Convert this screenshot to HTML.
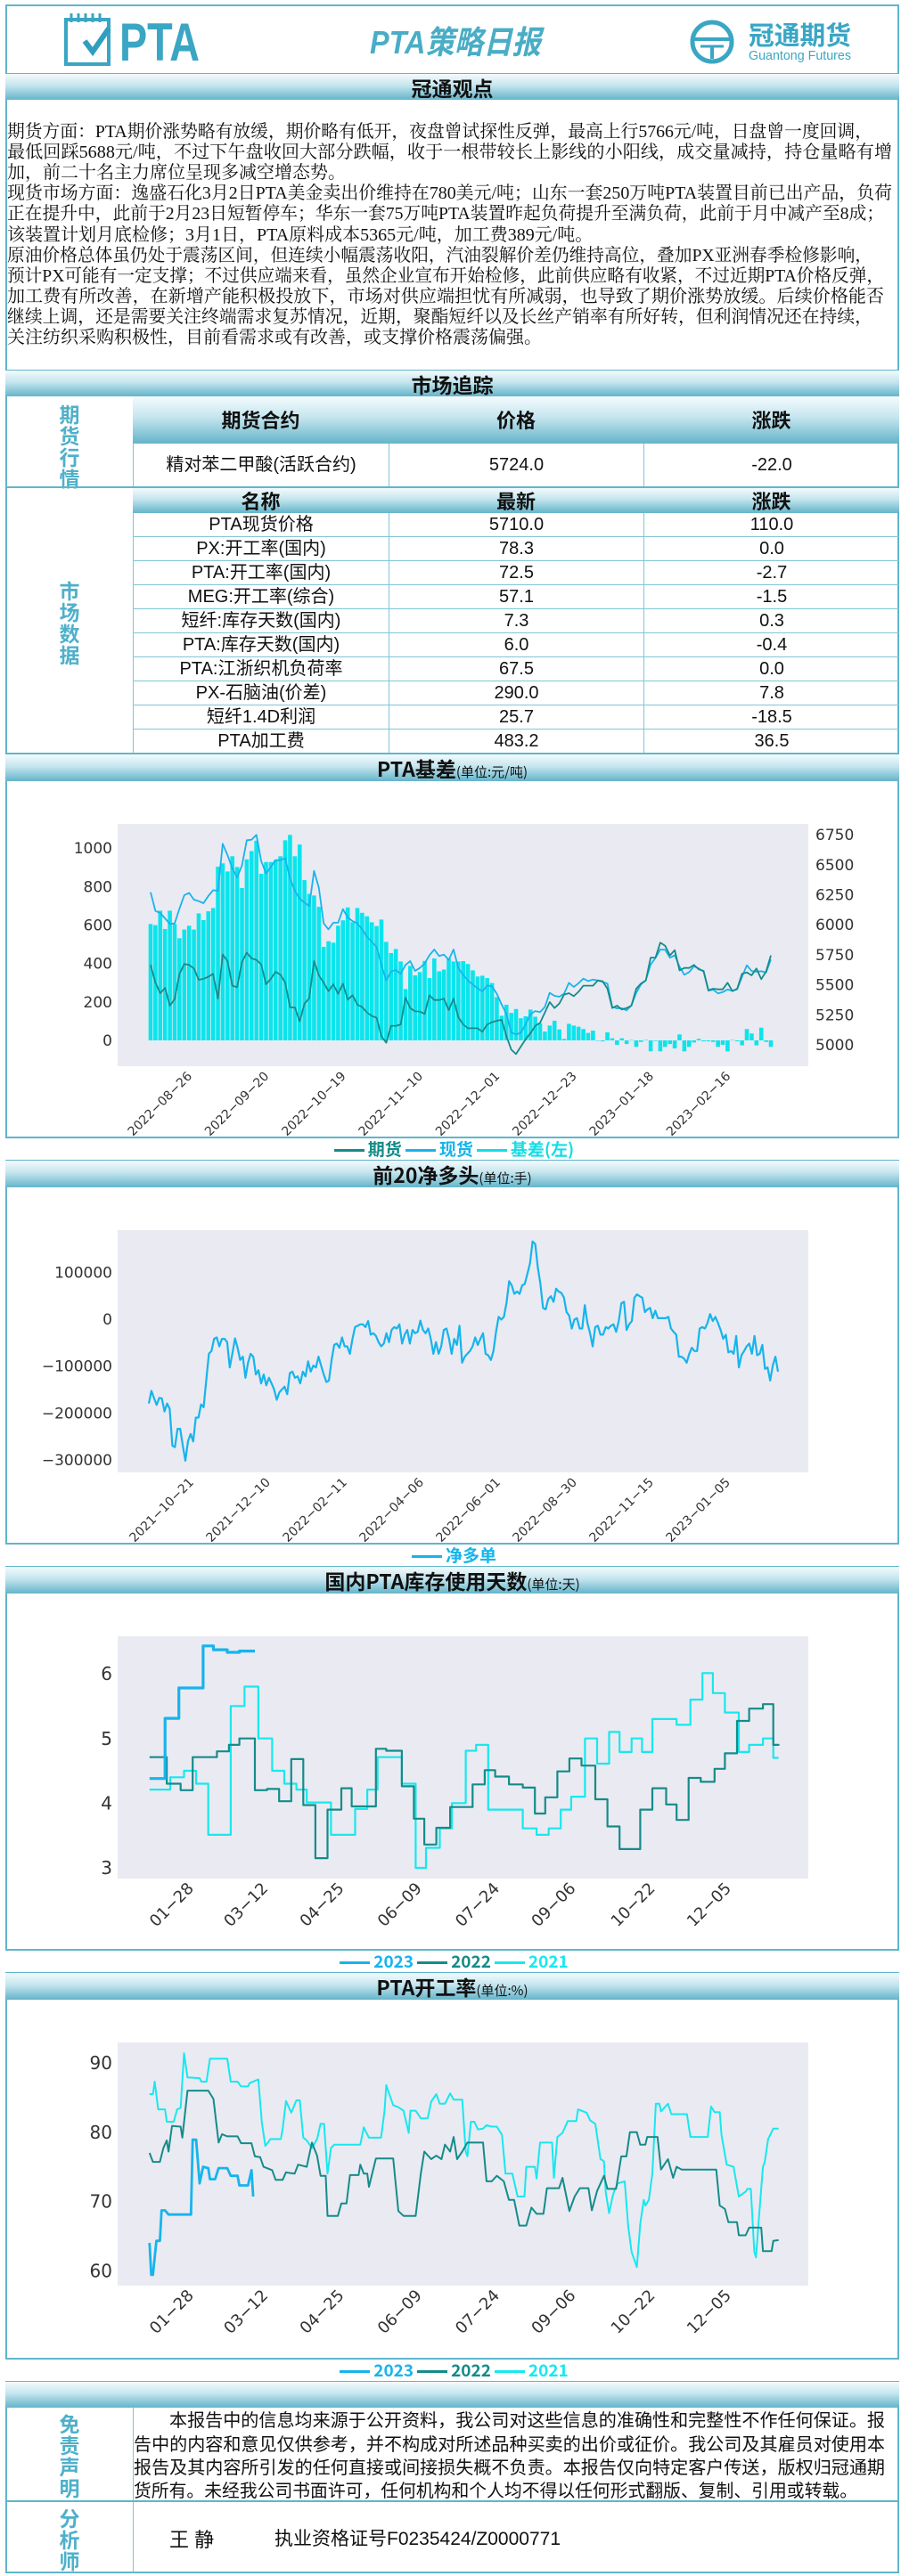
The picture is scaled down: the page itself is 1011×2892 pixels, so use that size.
<!DOCTYPE html>
<html><head><meta charset="utf-8">
<style>
*{margin:0;padding:0;box-sizing:border-box}
body{width:1011px;height:2892px;position:relative;background:#fff;font-family:"Liberation Sans","Noto Sans CJK SC",sans-serif;overflow:hidden;color:#111}
.a{position:absolute}
.sec{position:absolute;left:6px;width:1003px;background:linear-gradient(#f4fbfd,#c4e5ee 45%,#64b4ca);text-align:center;font-weight:bold;font-size:23px;color:#111;border-top:1px solid #5fb6cb;font-family:"Noto Sans CJK SC",sans-serif}
.sec small{font-size:15px;font-weight:normal}
.th{position:absolute;background:linear-gradient(#f4fbfd,#c4e5ee 45%,#64b4ca);text-align:center;font-weight:bold;font-size:22px;font-family:"Noto Sans CJK SC",sans-serif}
.td{position:absolute;text-align:center;font-size:20px;border-bottom:1px solid #7fc6d8;border-left:1px solid #7fc6d8;font-family:"Liberation Sans","Noto Sans CJK SC",sans-serif}
.vl{position:absolute;width:26px;color:#4fb0ca;font-weight:bold;font-size:23px;line-height:24px;text-align:center;font-family:"Noto Sans CJK SC",sans-serif}
.leg{position:absolute;left:6px;width:1003px;text-align:center;font-weight:bold;font-size:19px;font-family:"Noto Sans CJK SC",sans-serif;border-top:2px solid #5fb6cb;background:#fff}
.leg span.l{display:inline-block;width:34px;height:3px;vertical-align:middle;margin:0 4px 0 4px}
.hl{position:absolute;left:6px;width:1003px;height:2px;background:#5fb6cb}
</style></head>
<body>
<div class="a" style="left:6px;top:5px;width:1003px;height:2884px;border:2px solid #5fb6cb"></div>

<svg class="a" style="left:0;top:0" width="1011" height="84">
  <g>
    <rect x="74" y="22" width="48" height="50" fill="none" stroke="#3aa6c4" stroke-width="4"/>
    <g stroke="#3aa6c4" stroke-width="3"><line x1="80" y1="15" x2="80" y2="25"/><line x1="88" y1="15" x2="88" y2="25"/><line x1="96" y1="15" x2="96" y2="25"/><line x1="104" y1="15" x2="104" y2="25"/><line x1="112" y1="15" x2="112" y2="25"/></g>
    <polyline points="95,46 104,58 122,32" fill="none" stroke="#2f9fc0" stroke-width="6"/>
    <text x="134" y="68" font-size="60" font-weight="bold" fill="#3aa6c4" textLength="90" lengthAdjust="spacingAndGlyphs" font-family="Liberation Sans, sans-serif">PTA</text>
  </g>
  <text x="415" y="60" font-size="36" font-weight="bold" font-style="italic" fill="#49adc6" textLength="192" lengthAdjust="spacingAndGlyphs" font-family="Liberation Sans, Noto Sans CJK SC, sans-serif">PTA策略日报</text>
  <g>
    <circle cx="799" cy="47" r="22" fill="none" stroke="#3aa6c4" stroke-width="5"/>
    <line x1="778" y1="44" x2="820" y2="44" stroke="#3aa6c4" stroke-width="4"/>
    <line x1="786" y1="52" x2="812" y2="52" stroke="#3aa6c4" stroke-width="3"/>
    <line x1="799" y1="52" x2="799" y2="66" stroke="#3aa6c4" stroke-width="4"/>
    <text x="840" y="50" font-size="29" font-weight="bold" fill="#3aa6c4" textLength="115" lengthAdjust="spacingAndGlyphs" font-family="Noto Sans CJK SC, sans-serif">冠通期货</text>
    <text x="840" y="67" font-size="15" fill="#3aa6c4" textLength="115" lengthAdjust="spacingAndGlyphs" font-family="Liberation Sans, sans-serif">Guantong Futures</text>
  </g>
</svg>

<div class="sec" style="top:82px;height:30px;line-height:30px">冠通观点</div>

<svg class="a" style="left:0;top:112px" width="1011" height="303" font-family="Liberation Serif, Noto Serif CJK SC, serif" font-size="20" fill="#111">
  <text x="8" y="42" textLength="971" lengthAdjust="spacingAndGlyphs">期货方面：PTA期价涨势略有放缓，期价略有低开，夜盘曾试探性反弹，最高上行5766元/吨，日盘曾一度回调，</text>
  <text x="8" y="65" textLength="993" lengthAdjust="spacingAndGlyphs">最低回踩5688元/吨，不过下午盘收回大部分跌幅，收于一根带较长上影线的小阳线，成交量减持，持仓量略有增</text>
  <text x="8" y="88">加，前二十名主力席位呈现多减空增态势。</text>
  <text x="8" y="111" textLength="993" lengthAdjust="spacingAndGlyphs">现货市场方面：逸盛石化3月2日PTA美金卖出价维持在780美元/吨；山东一套250万吨PTA装置目前已出产品，负荷</text>
  <text x="8" y="134" textLength="984" lengthAdjust="spacingAndGlyphs">正在提升中，此前于2月23日短暂停车；华东一套75万吨PTA装置昨起负荷提升至满负荷，此前于月中减产至8成；</text>
  <text x="8" y="158">该装置计划月底检修；3月1日，PTA原料成本5365元/吨，加工费389元/吨。</text>
  <text x="8" y="181" textLength="971" lengthAdjust="spacingAndGlyphs">原油价格总体虽仍处于震荡区间，但连续小幅震荡收阳，汽油裂解价差仍维持高位，叠加PX亚洲春季检修影响，</text>
  <text x="8" y="204" textLength="984" lengthAdjust="spacingAndGlyphs">预计PX可能有一定支撑；不过供应端来看，虽然企业宣布开始检修，此前供应略有收紧，不过近期PTA价格反弹，</text>
  <text x="8" y="227" textLength="984" lengthAdjust="spacingAndGlyphs">加工费有所改善，在新增产能积极投放下，市场对供应端担忧有所减弱，也导致了期价涨势放缓。后续价格能否</text>
  <text x="8" y="250" textLength="971" lengthAdjust="spacingAndGlyphs">继续上调，还是需要关注终端需求复苏情况，近期，聚酯短纤以及长丝产销率有所好转，但利润情况还在持续，</text>
  <text x="8" y="273">关注纺织采购积极性，目前看需求或有改善，或支撑价格震荡偏强。</text>
</svg>

<div class="sec" style="top:415px;height:30px;line-height:30px">市场追踪</div>

<div class="vl" style="left:65px;top:452px">期<br>货<br>行<br>情</div>
<div class="th" style="left:149px;top:445px;width:287px;height:53px;line-height:53px">期货合约</div>
<div class="th" style="left:436px;top:445px;width:286px;height:53px;line-height:53px">价格</div>
<div class="th" style="left:722px;top:445px;width:287px;height:53px;line-height:53px">涨跌</div>
<div class="td" style="left:149px;top:498px;width:287px;height:49px;line-height:49px">精对苯二甲酸(活跃合约)</div>
<div class="td" style="left:436px;top:498px;width:286px;height:49px;line-height:49px">5724.0</div>
<div class="td" style="left:722px;top:498px;width:287px;height:49px;line-height:49px">-22.0</div>
<div class="hl" style="top:546px"></div>

<div class="vl" style="left:65px;top:650px">市<br>场<br>数<br>据</div>
<div class="th" style="left:149px;top:548px;width:287px;height:28px;line-height:28px">名称</div>
<div class="th" style="left:436px;top:548px;width:286px;height:28px;line-height:28px">最新</div>
<div class="th" style="left:722px;top:548px;width:287px;height:28px;line-height:28px">涨跌</div>
<div id="mtable"></div>
<div class="hl" style="top:845px"></div>

<div class="sec" style="top:846px;height:31px;line-height:31px">PTA基差<small>(单位:元/吨)</small></div>
<div class="sec" style="top:1302px;height:31px;line-height:31px">前20净多头<small>(单位:手)</small></div>
<div class="sec" style="top:1758px;height:31px;line-height:31px">国内PTA库存使用天数<small>(单位:天)</small></div>
<div class="sec" style="top:2214px;height:31px;line-height:31px">PTA开工率<small>(单位:%)</small></div>
<div class="sec" style="top:2673px;height:30px"></div>

<div class="vl" style="left:65px;top:2708px">免<br>责<br>声<br>明</div>
<div class="a" style="left:149px;top:2703px;width:1px;height:185px;background:#7fc6d8"></div>
<svg class="a" style="left:0;top:2703px" width="1011" height="105" font-family="Liberation Sans, Noto Sans CJK SC, sans-serif" font-size="20" fill="#111">
  <text x="190" y="21" textLength="803" lengthAdjust="spacingAndGlyphs">本报告中的信息均来源于公开资料，我公司对这些信息的准确性和完整性不作任何保证。报</text>
  <text x="150" y="48" textLength="843" lengthAdjust="spacingAndGlyphs">告中的内容和意见仅供参考，并不构成对所述品种买卖的出价或征价。我公司及其雇员对使用本</text>
  <text x="150" y="74" textLength="843" lengthAdjust="spacingAndGlyphs">报告及其内容所引发的任何直接或间接损失概不负责。本报告仅向特定客户传送，版权归冠通期</text>
  <text x="150" y="100" textLength="812" lengthAdjust="spacingAndGlyphs">货所有。未经我公司书面许可，任何机构和个人均不得以任何形式翻版、复制、引用或转载。</text>
</svg>
<div class="hl" style="top:2807px"></div>
<div class="vl" style="left:65px;top:2814px">分<br>析<br>师</div>
<div class="a" style="left:190px;top:2834px;font-size:22px">王 静</div>
<div class="a" style="left:308px;top:2834px;font-size:21px;font-family:'Liberation Sans','Noto Sans CJK SC',sans-serif">执业资格证号F0235424/Z0000771</div>

<svg id="charts" class="a" style="left:0;top:0" width="1011" height="2892"></svg>

<div class="leg" style="top:1276px;height:26px;line-height:24px"><span class="l" style="background:#158c89"></span><span style="color:#158c89">期货</span><span class="l" style="background:#17b4ec"></span><span style="color:#17b4ec">现货</span><span class="l" style="background:#13dde6"></span><span style="color:#13dde6">基差(左)</span></div>
<div class="leg" style="top:1732px;height:26px;line-height:24px"><span class="l" style="background:#17b4ec"></span><span style="color:#17b4ec">净多单</span></div>
<div class="leg" style="top:2188px;height:26px;line-height:24px"><span class="l" style="background:#17b4ec"></span><span style="color:#17b4ec">2023</span><span class="l" style="background:#158c89"></span><span style="color:#158c89">2022</span><span class="l" style="background:#17e8ee"></span><span style="color:#17e8ee">2021</span></div>
<div class="leg" style="top:2647px;height:26px;line-height:24px"><span class="l" style="background:#17b4ec"></span><span style="color:#17b4ec">2023</span><span class="l" style="background:#158c89"></span><span style="color:#158c89">2022</span><span class="l" style="background:#17e8ee"></span><span style="color:#17e8ee">2021</span></div>

<script>
const mNames=['PTA现货价格','PX:开工率(国内)','PTA:开工率(国内)','MEG:开工率(综合)','短纤:库存天数(国内)','PTA:库存天数(国内)','PTA:江浙织机负荷率','PX-石脑油(价差)','短纤1.4D利润','PTA加工费'];
const mLatest=['5710.0','78.3','72.5','57.1','7.3','6.0','67.5','290.0','25.7','483.2'];
const mChange=['110.0','0.0','-2.7','-1.5','0.3','-0.4','0.0','7.8','-18.5','36.5'];

const c1TickLabels=['2022-08-26','2022-09-20','2022-10-19','2022-11-10','2022-12-01','2022-12-23','2023-01-18','2023-02-16'];
const c1TickIdx=[8,24,40,56,72,88,104,120];
const c1LeftTicks=[0,200,400,600,800,1000];
const c1RightTicks=[5000,5250,5500,5750,6000,6250,6500,6750];
const c1Basis=[605,599,674,579,674,605,531,576,596,576,660,625,671,688,903,920,878,957,901,792,941,984,1038,866,927,927,938,957,1040,1068,957,1018,833,762,753,694,486,515,508,596,624,691,614,688,663,645,614,594,628,512,454,475,410,267,387,338,355,413,324,426,359,368,426,410,410,
412,397,364,332,336,324,298,225,128,185,143,163,115,125,160,123,89,46,77,102,57,8,86,77,71,59,39,51,0,-5,42,11,-23,11,-19,2,-34,-8,2,-57,-3,-57,-34,-19,-42,31,-57,-34,-11,8,-5,-5,-8,-34,-23,-57,2,-5,-26,59,36,-26,66,-8,-34];
const c1Futures=[5665,5517,5430,5474,5326,5380,5591,5672,5665,5635,5541,5549,5566,5591,5385,5751,5697,5492,5479,5689,5768,5719,5707,5670,5504,5549,5608,5583,5517,5311,5311,5195,5343,5388,5697,5578,5517,5447,5504,5425,5509,5376,5413,5334,5314,5269,5240,5225,5072,5017,5158,5158,5170,5393,5306,5279,5277,5257,5413,5373,5373,5385,5289,5385,5230,
5170,5138,5138,5138,5109,5170,5188,5200,5208,5072,4960,4923,4985,5047,5096,5158,5183,5269,5356,5306,5343,5418,5430,5405,5442,5492,5492,5492,5536,5529,5467,5306,5326,5294,5306,5326,5467,5511,5536,5726,5726,5850,5825,5744,5788,5620,5640,5640,5665,5628,5615,5455,5467,5462,5462,5517,5447,5467,5591,5603,5578,5635,5546,5610,5744];
const c1Spot=[6270,6114,6097,6053,6006,6011,6134,6245,6265,6208,6196,6179,6238,6287,6282,6673,6579,6468,6394,6492,6703,6707,6747,6529,6426,6480,6537,6537,6554,6381,6282,6216,6184,6154,6448,6307,6011,5961,6016,6016,6129,6060,6030,6011,5961,5899,5858,5813,5665,5536,5610,5623,5591,5665,5697,5615,5640,5677,5746,5793,5739,5751,5707,5793,5640,
5582,5535,5502,5470,5445,5494,5486,5425,5336,5257,5103,5086,5100,5172,5256,5281,5272,5315,5433,5408,5400,5426,5516,5482,5513,5551,5531,5543,5536,5524,5509,5317,5303,5305,5287,5328,5433,5503,5538,5669,5723,5793,5791,5725,5746,5651,5583,5606,5654,5636,5610,5450,5459,5428,5439,5460,5449,5462,5565,5662,5614,5609,5612,5602,5710];

const c2TickLabels=['2021-10-21','2021-12-10','2022-02-11','2022-04-06','2022-06-01','2022-08-30','2022-11-15','2023-01-05'];
const c2YTicks=[100000,0,-100000,-200000,-300000];
const c2NetK=[-180,-153,-169,-183,-168,-169,-197,-180,-191,-270,-273,-234,-234,-270,-302,-261,-245,-261,-210,-210,-182,-188,-131,-74,-68,-42,-39,-58,-42,-42,-49,-103,-74,-41,-61,-87,-80,-125,-93,-74,-80,-118,-109,-137,-118,-141,-125,-137,-150,-172,-156,-150,-144,-160,-115,-112,-125,-122,-137,-112,-122,-90,-112,-99,-103,-80,-99,-118,-134,-131,-87,-55,-52,-61,-39,-58,-58,-74,-42,-17,-14,-11,-11,-17,-4,-33,-30,-36,-49,-58,-52,-30,-49,-23,-17,-20,-11,-52,-33,-23,-52,-23,-30,-27,-3,-23,-30,-20,-42,-74,-49,-74,-58,-23,-20,-42,-74,-42,-55,-14,-93,-80,-74,-68,-58,-39,-55,-42,-30,-74,-77,-87,-68,-27,5,-1,5,34,81,72,54,59,54,72,75,97,119,166,160,110,75,24,21,43,49,37,65,59,56,46,15,8,-20,-1,2,-20,-20,30,-8,-30,-58,-17,-14,-33,-33,-17,-20,-14,-11,-27,-4,34,37,-23,-11,-4,46,53,49,46,15,21,24,2,18,2,2,2,2,5,-20,-27,-33,-80,-80,-84,-93,-74,-61,-68,-68,-20,-17,-20,-8,11,-4,5,-8,-23,-42,-33,-71,-68,-74,-36,-103,-77,-68,-58,-52,-74,-36,-77,-74,-55,-106,-103,-131,-99,-80,-112];

const c3TickLabels=['01-28','03-12','04-25','06-09','07-24','09-06','10-22','12-05'];
const c3TickDays=[28,71,115,160,205,249,295,339];
const c3YTicks=[3,4,5,6];
const c3Days2023=[4,13,21,35,41,49,56,65];
const c3Val2023=[4.38,5.31,5.78,6.43,6.37,6.33,6.35,6.35];
const c3Days2022=[4,14,22,29,43,50,56,65,72,79,86,93,100,107,115,121,135,141,150,157,163,170,178,191,198,204,212,220,227,233,240,247,254,262,269,276,288,295,303,309,316,323,331,337,344,351,359,365,368];
const c3Val2022=[4.71,4.30,4.20,4.71,4.80,4.90,5.00,4.20,4.22,4.03,4.68,3.97,3.15,3.90,4.23,3.95,4.84,4.81,4.26,3.76,3.36,3.62,3.94,4.29,4.51,4.41,4.29,4.24,3.84,4.09,4.49,4.69,4.58,4.06,3.64,3.29,3.90,4.23,3.98,3.74,4.39,4.33,4.53,4.77,5.27,5.46,5.53,4.90,4.89];
const c3Days2021=[4,16,24,31,38,51,59,67,75,82,89,95,109,123,130,136,150,158,164,172,179,187,193,200,220,228,235,242,248,256,263,270,276,283,289,295,309,317,324,330,337,345,351,359,365,368];
const c3Val2021=[4.21,4.40,4.50,4.30,3.51,5.50,5.80,5.00,4.50,4.30,4.21,4.01,3.51,3.91,4.21,4.71,4.30,3.00,3.31,3.61,4.00,4.81,4.90,3.90,3.61,3.51,3.61,3.90,4.10,5.00,4.61,5.10,4.79,5.00,4.79,5.30,5.21,5.60,6.01,5.70,5.40,4.79,4.90,5.00,4.70,4.70];

const c4YTicks=[60,70,80,90];
const c4Days2023=[4,5,6,8,10,11,13,15,28,29,31,33,35,38,39,42,44,49,51,55,56,61,63,64];
const c4Val2023=[64.0,59.4,59.4,64.3,64.3,68.7,68.7,68.1,68.1,78.9,78.9,72.6,75.0,74.8,73.2,73.2,74.8,74.8,73.7,73.7,72.3,72.3,74.5,70.7];
const c4Days2022=[4,6,10,12,14,15,17,22,23,26,38,41,44,46,49,55,57,63,65,68,70,75,77,81,83,85,88,90,95,98,101,103,106,107,113,115,118,120,125,126,128,130,131,135,145,148,151,158,161,163,167,170,173,175,178,180,182,185,188,197,199,202,205,209,212,215,218,222,225,228,232,234,241,243,247,250,253,258,260,263,267,269,274,277,280,282,286,288,291,292,298,300,304,307,309,312,332,334,337,339,344,345,349,351,358,359,364,365,368];
const c4Val2022=[77.0,75.7,75.7,77.7,78.8,77.2,80.9,80.8,79.2,86.0,86.0,84.8,78.5,79.7,79.4,79.4,78.4,78.4,76.5,76.4,75.0,74.5,73.1,73.1,74.2,74.1,74.0,75.3,75.0,78.5,76.6,73.7,73.7,67.9,67.9,69.7,69.7,73.8,73.8,75.3,74.0,74.0,72.1,76.2,76.2,68.6,67.9,67.9,74.0,77.2,76.1,76.6,76.1,78.2,77.2,79.3,76.1,77.2,78.5,78.5,72.9,72.9,73.7,72.9,70.2,70.2,66.5,66.5,69.1,68.2,68.2,71.9,71.9,73.4,68.6,70.7,71.9,71.9,68.7,71.5,73.7,71.8,71.8,76.5,76.5,80.0,80.0,78.2,78.2,79.3,79.3,74.6,76.1,73.4,75.0,74.6,74.6,69.4,68.9,67.0,67.0,65.1,65.1,66.2,66.2,62.8,62.8,64.3,64.4];
const c4Days2021=[4,6,7,9,13,14,18,20,22,24,26,33,34,37,39,49,51,55,57,61,62,67,69,71,74,80,81,83,86,89,91,93,95,98,101,103,105,107,109,111,115,126,128,131,138,140,141,145,148,151,154,155,158,161,165,167,170,172,175,178,180,185,187,188,190,192,194,197,199,202,205,208,210,214,217,221,222,227,228,230,237,238,240,243,246,251,252,257,259,262,265,267,268,270,272,273,275,279,281,283,286,288,290,291,293,295,297,299,300,304,306,315,317,327,329,331,334,335,338,342,345,349,350,352,354,355,357,359,360,362,365,368];
const c4Val2021=[85.5,85.5,87.3,83.3,83.3,81.5,81.5,83.3,83.5,91.4,87.9,87.8,87.3,87.3,90.6,90.6,87.3,87.3,86.6,86.6,87.1,87.6,81.4,78.0,79.0,79.0,80.4,84.5,82.8,84.6,84.6,79.2,78.8,77.7,79.0,81.2,81.2,74.0,77.7,78.2,78.2,78.2,80.7,79.2,79.2,83.1,86.8,83.9,83.6,83.1,79.9,83.1,83.1,82.0,82.0,84.4,85.5,84.1,84.1,85.6,84.7,84.7,77.2,76.5,81.5,81.5,80.4,80.5,81.0,80.8,80.8,79.6,74.0,74.0,70.7,70.7,75.0,75.0,73.3,78.5,78.5,73.4,79.3,79.9,81.6,81.6,83.3,82.8,81.7,81.2,76.1,75.8,71.3,68.3,70.7,71.5,72.6,72.9,66.4,62.7,60.5,66.7,70.2,69.4,70.2,74.0,84.1,84.1,83.0,84.1,82.6,82.6,79.3,79.3,83.7,82.9,82.9,79.6,75.3,75.0,70.7,71.4,71.8,71.8,62.7,61.9,68.6,75.0,75.6,79.0,80.5,80.5];

const mt=document.getElementById('mtable');
mNames.forEach((n,i)=>{
  const top=576+i*27;
  [[149,287,n,'name'],[436,286,mLatest[i],'latest'],[722,287,mChange[i],'change']].forEach(c=>{
    const d=document.createElement('div');
    d.className='td';
    d.style.cssText=`left:${c[0]}px;top:${top}px;width:${c[1]}px;height:27px;line-height:27px`;
    d.textContent=c[2];
    
    
    mt.appendChild(d);
  });
});

const NS='http://www.w3.org/2000/svg';
const svg=document.getElementById('charts');
function mk(tag,attrs,parent){const e=document.createElementNS(NS,tag);for(const k in attrs)e.setAttribute(k,attrs[k]);parent.appendChild(e);return e;}
function frame(name){
  const g=mk('g',{},svg);
  
  
  return g;
}
function plotBg(g,y0,y1){
  const r=mk('rect',{x:132,y:y0,width:775,height:y1-y0,fill:'#eaeaf2'},g);
  
  
}
function yLabel(g,x,y,txt,anchor,fs){
  const t=mk('text',{x:x,y:y+fs*0.36,'text-anchor':anchor,'font-size':fs,fill:'#333','font-family':'DejaVu Sans, sans-serif'},g);
  t.textContent=txt;
  
  
}
function xLabel(g,x,y,txt,fs){
  const t=mk('text',{x:x,y:y,'text-anchor':'end','font-size':fs,fill:'#333','font-family':'DejaVu Sans, sans-serif',transform:`rotate(-45 ${x} ${y})`},g);
  t.textContent=txt.replace(/-/g,'\u2212');
  
  
}
function path(g,d,color,w,name){
  const p=mk('path',{d:d,fill:'none',stroke:color,'stroke-width':w,'stroke-linejoin':'round'},g);
  
  
}

(function(){
  const g=frame('chart-pta-basis');
  const top=925,bot=1197;
  plotBg(g,top,bot);
  const n=c1Basis.length;
  const x=i=>169+i*(696/(n-1));
  const yL=v=>1168-v*0.216;
  const yR=v=>1173-(v-5000)*0.1349;
  c1LeftTicks.forEach(v=>yLabel(g,126,yL(v),String(v),'end',17));
  c1RightTicks.forEach(v=>yLabel(g,915,yR(v),String(v),'start',17));
  c1TickIdx.forEach((ix,k)=>xLabel(g,x(ix)+4,bot+12,c1TickLabels[k],14));
  c1Basis.forEach((v,i)=>{
    const y0=yL(0),y1=yL(v);
    const r=mk('rect',{x:x(i)-2.3,y:Math.min(y0,y1),width:4.6,height:Math.max(0.5,Math.abs(y1-y0)),fill:'#0ce4ec'},g);
    
    
  });
  path(g,c1Spot.map((v,i)=>(i?'L':'M')+x(i).toFixed(1)+','+yR(v).toFixed(1)).join(''),'#17b4ec',1.8,'spot-line');
  path(g,c1Futures.map((v,i)=>(i?'L':'M')+x(i).toFixed(1)+','+yR(v).toFixed(1)).join(''),'#158c89',1.8,'futures-line');
})();

(function(){
  const g=frame('chart-net-long');
  const top=1381,bot=1653;
  plotBg(g,top,bot);
  const n=c2NetK.length;
  const x=i=>167+i*(706/(n-1));
  const y=v=>1481-v*0.000526;
  c2YTicks.forEach(v=>yLabel(g,126,y(v),String(v).replace('-','\u2212'),'end',17));
  c2TickLabels.forEach((lab,k)=>xLabel(g,214+86*k+4,bot+12,lab,14));
  path(g,c2NetK.map((v,i)=>(i?'L':'M')+x(i).toFixed(1)+','+y(v*1000).toFixed(1)).join(''),'#17b4ec',2.2,'net-long-line');
})();

(function(){
  const g=frame('chart-inventory-days');
  const top=1837,bot=2109;
  plotBg(g,top,bot);
  const x=d=>160+d*1.939;
  const y=v=>1879+(6-v)*72.67;
  c3YTicks.forEach(v=>yLabel(g,126,y(v),String(v),'end',20));
  c3TickDays.forEach((d,k)=>xLabel(g,x(d)+4,bot+12,c3TickLabels[k],18));
  function step(days,vals){let s='M'+x(days[0]).toFixed(1)+','+y(vals[0]).toFixed(1);for(let i=1;i<days.length;i++){s+='H'+x(days[i]).toFixed(1)+'V'+y(vals[i]).toFixed(1);}return s;}
  path(g,step(c3Days2021,c3Val2021),'#17e8ee',2.2,'line-2021');
  path(g,step(c3Days2022,c3Val2022),'#158c89',2.2,'line-2022');
  path(g,step(c3Days2023,c3Val2023),'#17b4ec',3.2,'line-2023');
})();

(function(){
  const g=frame('chart-operating-rate');
  const top=2293,bot=2566;
  plotBg(g,top,bot);
  const x=d=>160+d*1.939;
  const y=v=>2316+(90-v)*7.77;
  c4YTicks.forEach(v=>yLabel(g,126,y(v),String(v),'end',20));
  c3TickDays.forEach((d,k)=>xLabel(g,x(d)+4,bot+12,c3TickLabels[k],18));
  function line(days,vals){return days.map((d,i)=>(i?'L':'M')+x(d).toFixed(1)+','+y(vals[i]).toFixed(1)).join('');}
  path(g,line(c4Days2021,c4Val2021),'#17e8ee',2,'line-2021');
  path(g,line(c4Days2022,c4Val2022),'#158c89',2,'line-2022');
  path(g,line(c4Days2023,c4Val2023),'#17b4ec',2.8,'line-2023');
})();
</script>
</body></html>
